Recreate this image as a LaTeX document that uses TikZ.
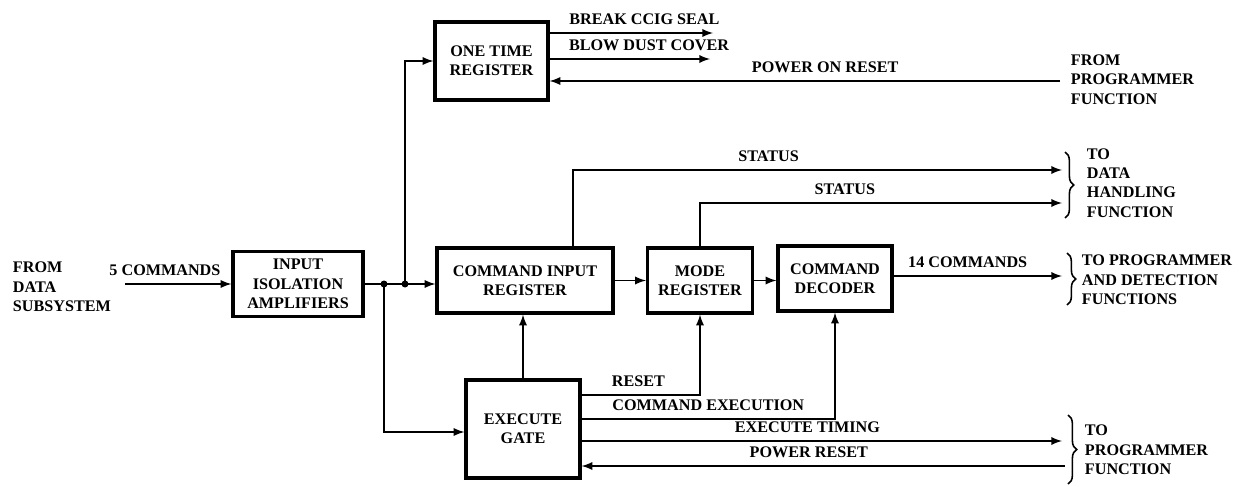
\documentclass[tikz,border=0pt]{standalone}
\usepackage{fontspec}
\setmainfont{Liberation Serif}
\usetikzlibrary{decorations.pathreplacing}

\begin{document}
\begin{tikzpicture}[font=\fontsize{9.2}{11}\selectfont\bfseries, line width=1.1pt, >=latex,
    blk/.style={draw, line width=1.8pt, align=center, inner sep=2pt},
    lbl/.style={inner sep=0pt, above=4pt},
    ext/.style={align=left, anchor=west, inner sep=0pt},
    brc/.style={decorate, decoration={brace, amplitude=5pt}, line width=0.9pt}]
    \useasboundingbox (0,0) rectangle (24.96,9.72);

    % blocks
    \node[blk, minimum width=2.6cm, minimum height=1.3cm]
    (inp) at (5.96,4.04) {INPUT\\ISOLATION\\AMPLIFIERS};
    \node[blk, minimum width=2.26cm, minimum height=1.56cm]
    (once) at (9.83,8.5) {ONE TIME\\REGISTER};
    \node[blk, minimum width=3.52cm, minimum height=1.3cm]
    (cir) at (10.5,4.11) {COMMAND INPUT\\REGISTER};
    \node[blk, minimum width=2.1cm, minimum height=1.3cm]
    (mode) at (14.0,4.11) {MODE\\REGISTER};
    \node[blk, minimum width=2.28cm, minimum height=1.3cm]
    (dec) at (16.7,4.15) {COMMAND\\DECODER};
    \node[blk, minimum width=2.28cm, minimum height=1.96cm]
    (gate) at (10.46,1.14) {EXECUTE\\GATE};

    % outside texts
    \node[ext] (src) at (0.24,3.98) {FROM\\DATA\\SUBSYSTEM};
    \node[ext] (prg) at (21.4,8.13) {FROM\\PROGRAMMER\\FUNCTION};
    \node[ext] (dhf) at (21.72,6.06) {TO\\DATA\\HANDLING\\FUNCTION};
    \node[ext] (pdf) at (21.62,4.12) {TO PROGRAMMER\\AND DETECTION\\FUNCTIONS};
    \node[ext] (pgf) at (21.68,0.72) {TO\\PROGRAMMER\\FUNCTION};

    % free ends
    \coordinate (cin) at (2.5,4.04);
    \coordinate (j1) at (7.68,4.04);
    \coordinate (j2) at (8.1,4.04);
    \coordinate (bcs) at (14.26,9.06);
    \coordinate (bdc) at (14.2,8.54);
    \coordinate (por) at (21.2,8.1);
    \coordinate (st1) at (21.24,6.32);
    \coordinate (st2) at (21.24,5.66);
    \coordinate (cmd) at (21.24,4.2);
    \coordinate (tim) at (21.24,0.9);
    \coordinate (prs) at (21.3,0.4);

    % input side
    \draw[->] (cin) -- node[lbl, pos=0.375] {5 COMMANDS} (inp);
    \draw[->] (inp) -- (inp -| cir.west);
    \fill (j1) circle (0.07) (j2) circle (0.07);
    \draw[->] (j2) |- (once);
    \draw[->] (j1) |- (gate.west |- 0,1.08);

    % one time register
    \draw[->] (once.east |- bcs) -- node[lbl, pos=0.58] {BREAK CCIG SEAL} (bcs);
    \draw[->] (once.east |- bdc) -- node[lbl, pos=0.62] {BLOW DUST COVER} (bdc);
    \draw[->] (por) -- node[lbl, pos=0.46] {POWER ON RESET} (once.east |- por);

    % register chain
    \draw[->] (cir) -- (mode);
    \draw[->] (mode) -- (mode -| dec.west);
    \draw[->] (cir.north -| 11.46,0) |- node[lbl, pos=0.7] {STATUS} (st1);
    \draw[->] (mode.north) |- node[lbl, pos=0.7] {STATUS} (st2);
    \draw[->] (dec.east |- cmd) -- node[lbl, pos=0.44] {14 COMMANDS} (cmd);

    % execute gate
    \draw[->] (gate) -- (gate |- cir.south);
    \draw[->] (gate.east |- 0,1.82) -- node[lbl, pos=0.48] {RESET}
    (mode.south |- 0,1.82) -- (mode.south);
    \draw[->] (gate.east |- 0,1.34) -- node[lbl, pos=0.5] {COMMAND EXECUTION}
    (dec.south |- 0,1.34) -- (dec.south);
    \draw[->] (gate.east |- tim) -- node[lbl, pos=0.47] {EXECUTE TIMING} (tim);
    \draw[->] (prs) -- node[lbl, pos=0.53] {POWER RESET} (gate.east |- prs);

    % braces
    \draw[brc] (21.3,6.68) -- (21.3,5.36);
    \draw[brc] (21.34,4.66) -- (21.34,3.62);
    \draw[brc] (21.36,1.42) -- (21.36,0.04);
\end{tikzpicture}
\end{document}
